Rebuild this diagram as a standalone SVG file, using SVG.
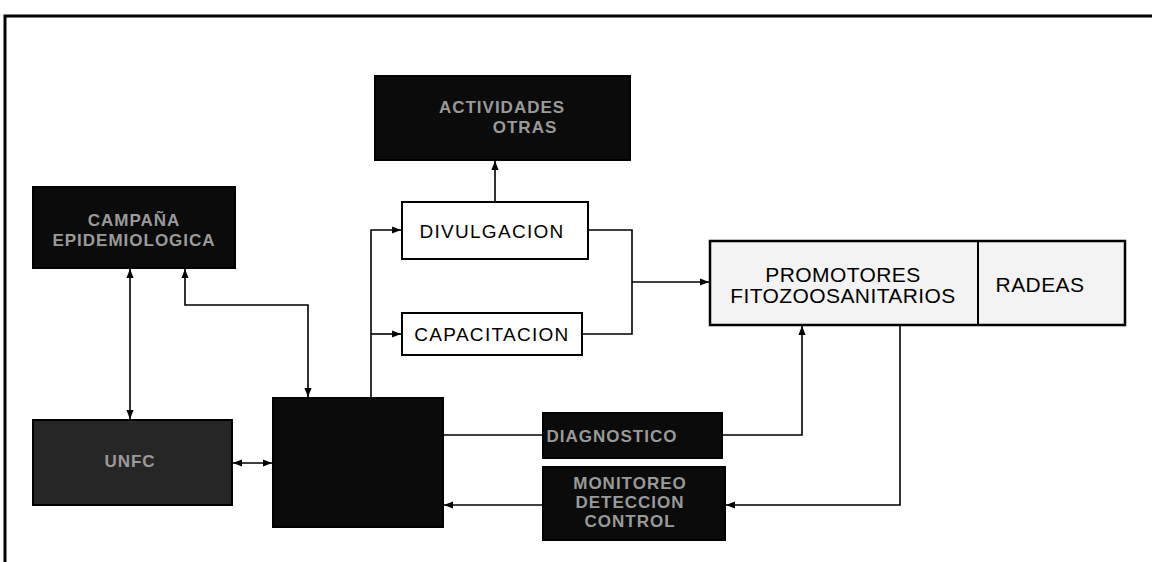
<svg xmlns="http://www.w3.org/2000/svg" width="1152" height="562" viewBox="0 0 1152 562">
<style>
.frame{fill:none;stroke:#000;stroke-width:3}
.dark{fill:#0b0b0b;stroke:#000;stroke-width:2}
.white{fill:#fff;stroke:#000;stroke-width:2}
.light{fill:#f3f3f3;stroke:#000;stroke-width:2.5}
.lbl{font-family:"Liberation Sans",Arial,sans-serif;font-size:19px;fill:#000;text-anchor:middle;letter-spacing:1.3px}
.big{font-family:"Liberation Sans",Arial,sans-serif;font-size:21px;fill:#000;text-anchor:middle;letter-spacing:0.4px}
.dl{font-family:"Liberation Sans",Arial,sans-serif;font-size:17px;font-weight:bold;fill:#9a9a9a;text-anchor:middle;letter-spacing:1px}
.c{fill:none;stroke:#000;stroke-width:1.6}
</style>
<defs>
<marker id="ah" viewBox="0 0 10 10" refX="10" refY="5" markerWidth="9" markerHeight="9" markerUnits="userSpaceOnUse" orient="auto-start-reverse">
<path d="M0,1 L10,5 L0,9 z" fill="#000"/>
</marker>
</defs>
<rect width="1152" height="562" fill="#fff"/>
<path class="frame" d="M5,562 V16 H1152"/>

<g id="connectors">
<path class="c" d="M495,202 V161" marker-end="url(#ah)"/>
<path class="c" d="M371,398 V230 H401" marker-end="url(#ah)"/>
<path class="c" d="M371,334 H401" marker-end="url(#ah)"/>
<path class="c" d="M588,230 H632 V334 H582"/>
<path class="c" d="M632,282 H709" marker-end="url(#ah)"/>
<path class="c" d="M130,269 V419" marker-start="url(#ah)" marker-end="url(#ah)"/>
<path class="c" d="M185,269 V305 H308 V397" marker-start="url(#ah)" marker-end="url(#ah)"/>
<path class="c" d="M233,463 H272" marker-start="url(#ah)" marker-end="url(#ah)"/>
<path class="c" d="M443,435 H543"/>
<path class="c" d="M722,435 H802 V326" marker-end="url(#ah)"/>
<path class="c" d="M900,325 V505 H726" marker-end="url(#ah)"/>
<path class="c" d="M543,505 H444" marker-end="url(#ah)"/>
</g>

<g id="actividades">
<rect class="dark" x="375" y="76" width="255" height="84"/>
<text class="dl" x="502" y="113">ACTIVIDADES</text>
<text class="dl" x="525" y="133">OTRAS</text>
</g>
<g id="campana">
<rect class="dark" x="33" y="187" width="202" height="81"/>
<text class="dl" x="134" y="226">CAMPAÑA</text>
<text class="dl" x="134" y="246">EPIDEMIOLOGICA</text>
</g>
<g id="unf">
<rect class="dark" x="33" y="420" width="199" height="85" style="fill:#262626"/>
<text class="dl" x="130" y="467">UNFC</text>
</g>
<g id="central">
<rect class="dark" x="273" y="398" width="170" height="129"/>
</g>
<g id="diagnostico">
<rect class="dark" x="543" y="413" width="179" height="45"/>
<text class="dl" x="612" y="442">DIAGNOSTICO</text>
</g>
<g id="monitoreo">
<rect class="dark" x="543" y="467" width="182" height="73"/>
<text class="dl" x="630" y="489">MONITOREO</text>
<text class="dl" x="630" y="508">DETECCION</text>
<text class="dl" x="630" y="527">CONTROL</text>
</g>
<g id="divulgacion">
<rect class="white" x="402" y="202" width="186" height="57"/>
<text class="lbl" x="492" y="238">DIVULGACION</text>
</g>
<g id="capacitacion">
<rect class="white" x="402" y="313" width="180" height="42"/>
<text class="lbl" x="492" y="341">CAPACITACION</text>
</g>
<g id="promotores">
<rect class="light" x="710" y="241" width="415" height="84"/>
<line x1="978" y1="241" x2="978" y2="325" stroke="#000" stroke-width="2"/>
<text class="big" x="843" y="282">PROMOTORES</text>
<text class="big" x="843" y="303">FITOZOOSANITARIOS</text>
<text class="big" x="1040" y="292">RADEAS</text>
</g>
</svg>
